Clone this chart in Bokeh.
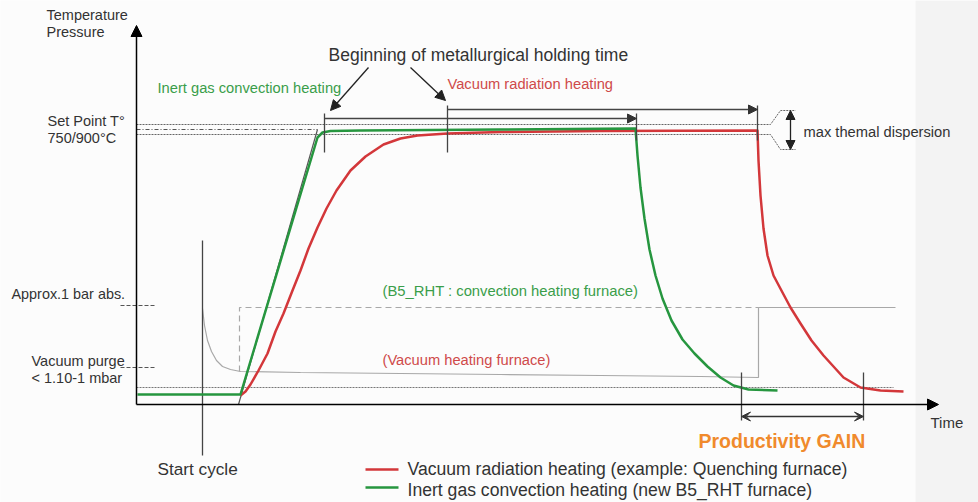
from bokeh.plotting import figure
from bokeh.models import Range1d, ColumnDataSource, Arrow, NormalHead, VeeHead
from bokeh.core.properties import value
from bokeh.embed import file_html
from bokeh.resources import INLINE

# ---- schematic data (time units across, level measured downward from the top of the drawing) ----
GREEN = "#26963f"
RED = "#d3373a"
GREEN_TXT = "#3a9e4a"
RED_TXT = "#cf4a4a"
DARK = "#333333"

# Inert gas convection heating (B5_RHT)
green_t = [137, 240, 317, 322, 330, 360, 500, 634, 635, 637, 640, 644, 649, 655, 662, 671, 682, 694, 707, 720, 733, 748, 777]
green_v = [394, 394, 137, 132, 130.5, 130, 129, 128, 128, 155, 187, 218, 249, 275, 298, 320, 339, 353, 366, 377, 385, 389, 390]

# Vacuum radiation heating
red_t = [240, 245, 250, 258, 267, 275, 283, 292, 300, 308, 317, 326, 336, 350, 365, 383, 400, 417, 447, 500, 600, 757,
         758, 760, 763, 767, 773, 782, 790, 800, 811, 823, 843, 860, 880, 903]
red_v = [395, 391, 384, 370, 353, 331, 313, 290, 270, 248, 227, 208, 190, 170, 156, 144, 138, 135, 133, 131.5, 130.5, 130,
         160, 195, 228, 255, 275, 292, 307, 323, 340, 355, 377, 387, 390, 391]

# vacuum furnace pressure
vac_t = [202, 204, 207, 211, 216, 222, 230, 240, 300, 400, 500, 600, 700, 758, 758, 895]
vac_v = [308, 325, 340, 351, 360, 366, 369, 371, 372, 373, 374, 375, 376, 377, 307, 307]
# convection furnace pressure (dashed)
conv_t = [239, 239, 758]
conv_v = [371, 307, 307]

# ideal ramp and set point band
ramp_t = [238, 317]
ramp_v = [404, 129]
setpoint_t = [136, 317]
setpoint_v = [129, 129]
band_top_t = [136, 770, 780, 795]
band_top_v = [124, 124, 110, 110]
band_bot_t = [136, 770, 780, 795]
band_bot_v = [134, 134, 149, 149]
vac_level_t = [136, 893]
vac_level_v = [387, 387]

# axes
origin = (136, 404)
time_end = 938
level_end = 25

# holding time markers
tick_x = [324, 447, 636, 757]
tick_top = [113, 105, 113, 105]
tick_bot = [152, 152, 140, 140]
hold_start = [324, 447]
hold_end = [636, 757]
hold_level = [118, 109]

# pointers "Beginning of metallurgical holding time"
ptr_x0 = [368, 410]
ptr_y0 = [67, 67]
ptr_x1 = [330, 445]
ptr_y1 = [110, 100]

# dispersion double arrow
disp_x = 790
disp_top, disp_bot = 110, 149

# productivity gain
gain_x = [741, 863]
gain_top, gain_bot = 372, 420
gain_level = 416

# start cycle
start_x = 202
start_top, start_bot = 240, 455

# pressure reference ticks
pref_x = [120, 155]
pref_levels = [305, 367]

# legend
leg_x = [365, 398]
leg_levels = [469, 487]

labels = ["Temperature", "Pressure", "Set Point T°", "750/900°C",
          "Inert gas convection heating", "Beginning of metallurgical holding time",
          "Vacuum radiation heating", "max themal dispersion",
          "Approx.1 bar abs.", "(B5_RHT : convection heating furnace)",
          "Vacuum purge", "< 1.10-1 mbar", "(Vacuum heating furnace)",
          "Time", "Productivity GAIN", "Start cycle",
          "Vacuum radiation heating (example: Quenching furnace)",
          "Inert gas convection heating (new B5_RHT furnace)"]
label_x = [46, 46, 47, 47, 157, 328, 447, 803, 11, 382, 31, 31, 382, 930, 698, 157, 407, 407]
label_y = [14, 31, 120, 137, 87, 54, 83, 131, 293, 290, 360, 377, 359, 422, 440, 468, 468, 489]
label_color = [DARK, DARK, DARK, DARK, GREEN_TXT, DARK, RED_TXT, DARK, DARK, GREEN_TXT,
               DARK, DARK, RED_TXT, DARK, "#f08a2c", DARK, DARK, DARK]
label_size = ["14.5px", "14.5px", "14.5px", "14.5px", "14.7px", "17.5px", "14.7px", "14.7px", "14.4px", "14.8px",
              "14.5px", "14.5px", "14.7px", "15px", "19.5px", "17.2px", "17.6px", "17.6px"]
label_style = ["normal"] * 14 + ["bold"] + ["normal"] * 3

p = figure(width=978, height=502, x_range=Range1d(0, 978), y_range=Range1d(502, 0),
           output_backend="svg", toolbar_location=None,
           x_axis_location=None, y_axis_location=None, min_border=0)
p.grid.visible = False
p.outline_line_color = None
p.background_fill_color = "#fcfcfc"
p.border_fill_color = "#fcfcfc"

# faint shading at the right side of the drawing
p.quad(left=[915], right=[978], top=[0], bottom=[502], fill_color="#f3f3f3", line_color=None)

# set point band
p.line(band_top_t, band_top_v, line_color="#666666", line_width=1, line_dash="2 1")
p.line(band_bot_t, band_bot_v, line_color="#666666", line_width=1, line_dash="2 1")
p.line(setpoint_t, setpoint_v, line_color="#555555", line_width=1, line_dash="4 2 1 2")
p.line(vac_level_t, vac_level_v, line_color="#777777", line_width=1, line_dash="2 1")
p.line(ramp_t, ramp_v, line_color="#555555", line_width=1.2)

# pressure curves
p.line(vac_t, vac_v, line_color="#a8a8a8", line_width=1.2)
p.line(conv_t, conv_v, line_color="#a8a8a8", line_width=1.2, line_dash="6 4")
for lv in pref_levels:
    p.line(pref_x, [lv, lv], line_color="#555555", line_width=1, line_dash="4 2")

# start cycle
p.line([start_x, start_x], [start_top, start_bot], line_color="#444444", line_width=1.3)

# temperature curves
p.line(red_t, red_v, line_color=RED, line_width=2.5, line_join="round")
p.line(green_t, green_v, line_color=GREEN, line_width=2.5, line_join="round")

# axes
p.add_layout(Arrow(end=NormalHead(size=11, fill_color="black", line_color="black"),
                   x_start=origin[0], y_start=origin[1], x_end=time_end, y_end=origin[1],
                   line_color="black", line_width=1.5))
p.add_layout(Arrow(end=NormalHead(size=11, fill_color="black", line_color="black"),
                   x_start=origin[0], y_start=origin[1], x_end=origin[0], y_end=level_end,
                   line_color="black", line_width=1.5))

# holding time ticks and arrows
for x, t, b in zip(tick_x, tick_top, tick_bot):
    p.line([x, x], [t, b], line_color="#444444", line_width=1.3)
for x0, x1, lv in zip(hold_start, hold_end, hold_level):
    p.add_layout(Arrow(end=NormalHead(size=9, fill_color="#333333", line_color="#333333"),
                       x_start=x0, y_start=lv, x_end=x1, y_end=lv,
                       line_color="#444444", line_width=1.3))
for x0, y0, x1, y1 in zip(ptr_x0, ptr_y0, ptr_x1, ptr_y1):
    p.add_layout(Arrow(end=NormalHead(size=10, fill_color="#222222", line_color="#222222"),
                       x_start=x0, y_start=y0, x_end=x1, y_end=y1,
                       line_color="#222222", line_width=1.3))

# dispersion arrow
p.add_layout(Arrow(start=NormalHead(size=9, fill_color="#222222", line_color="#222222"),
                   end=NormalHead(size=9, fill_color="#222222", line_color="#222222"),
                   x_start=disp_x, y_start=disp_top, x_end=disp_x, y_end=disp_bot,
                   line_color="#222222", line_width=1.3))

# productivity gain
for x in gain_x:
    p.line([x, x], [gain_top, gain_bot], line_color="#444444", line_width=1.3)
p.add_layout(Arrow(start=VeeHead(size=9, fill_color="#333333", line_color="#333333"),
                   end=VeeHead(size=9, fill_color="#333333", line_color="#333333"),
                   x_start=gain_x[0], y_start=gain_level, x_end=gain_x[1], y_end=gain_level,
                   line_color="#333333", line_width=1.3))

# legend swatches
p.line(leg_x, [leg_levels[0]] * 2, line_color=RED, line_width=2.5)
p.line(leg_x, [leg_levels[1]] * 2, line_color=GREEN, line_width=2.5)

src = ColumnDataSource(dict(text=labels, x=label_x, y=label_y, color=label_color,
                            size=label_size, style=label_style))
p.text(x="x", y="y", text="text", source=src, text_color="color", text_font_size="size",
       text_font_style="style", text_font=value("Liberation Sans"),
       text_baseline="middle", text_align="left")

open("out.html", "w").write(file_html(p, INLINE))
